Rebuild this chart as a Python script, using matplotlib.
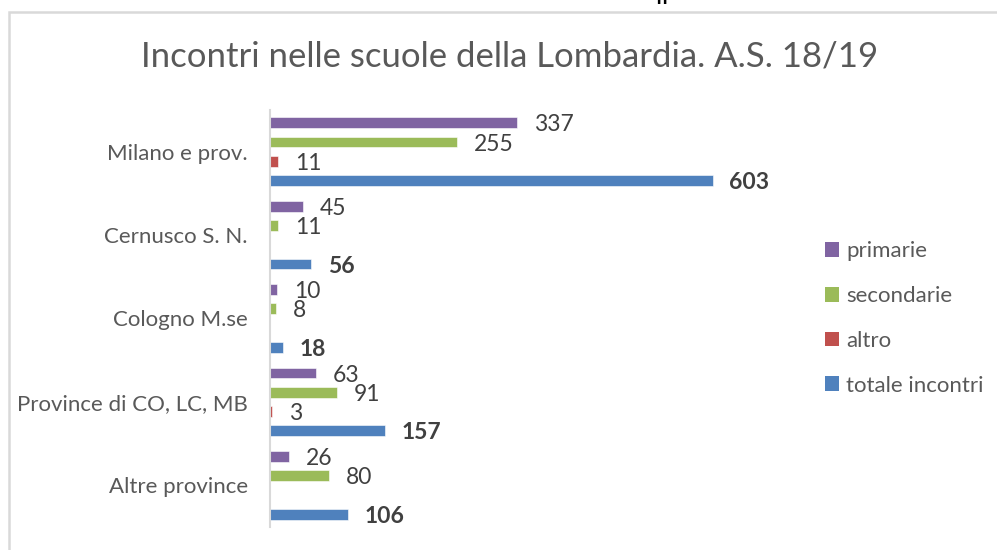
import numpy as np
import matplotlib
matplotlib.use("Agg")
import matplotlib.pyplot as plt
from matplotlib.patches import Rectangle, Patch

plt.rcParams["font.family"] = ["Lato", "DejaVu Sans"]

# data
categorie = ["Milano e prov.", "Cernusco S. N.", "Cologno M.se",
             "Province di CO, LC, MB", "Altre province"]
serie = ["primarie", "secondarie", "altro", "totale incontri"]
primarie = [337, 45, 10, 63, 26]
secondarie = [255, 11, 8, 91, 80]
altro = [11, np.nan, np.nan, 3, np.nan]
totale = [603, 56, 18, 157, 106]
colori = ["#8064A2", "#9BBB59", "#C0504D", "#4F81BD"]

W, H = 997, 550
fig = plt.figure(figsize=(W / 100, H / 100), dpi=100)

# cornice del grafico
fig.patches.append(Rectangle((8.5 / W, -0.1), 1.2, (H - 11.5) / H + 0.1,
                             transform=fig.transFigure, fill=False,
                             edgecolor="#d9d9d9", linewidth=1.8))
fig.text(663 / W, 1 + 2 / H, "ff", fontsize=14, fontweight="bold",
         ha="center", va="center", color="black")

ax = fig.add_axes([270 / W, 23 / H, (784 - 270) / W, (527 - 110) / H])

grigio = "#595959"
y = np.arange(len(categorie))
passo = 0.231
altezza = 0.13
valori = [primarie, secondarie, altro, totale]
for i, (vals, col, nome) in enumerate(zip(valori, colori, serie)):
    pos = y + (i - 1.5) * passo
    ax.barh(pos, vals, height=altezza, color=col, edgecolor="white",
            linewidth=0.4, label=nome)
    for p, v in zip(pos, vals):
        if np.isnan(v):
            continue
        ax.annotate(str(int(v)), (v, p), xytext=(12, -1.5),
                    textcoords="offset points", va="center", ha="left",
                    fontsize=16.5, color="#404040",
                    fontweight="bold" if nome == "totale incontri" else "normal")

ax.set_xlim(0, 700)
ax.set_ylim(len(categorie) - 0.5, -0.5)
ax.set_yticks(y)
ax.set_yticklabels(categorie, fontsize=16, color=grigio)
ax.tick_params(axis="y", length=0, pad=16)
ax.set_xticks([])
for s in ["top", "right", "bottom"]:
    ax.spines[s].set_visible(False)
ax.spines["left"].set_color("#d9d9d9")
ax.spines["left"].set_linewidth(1.5)

fig.text(510 / W, 1 - 57 / H, "Incontri nelle scuole della Lombardia. A.S. 18/19",
         ha="center", va="center", fontsize=25, color=grigio)

handles = [Patch(facecolor=c, label=n) for c, n in zip(colori, serie)]
fig.legend(handles=handles, loc="upper left", bbox_to_anchor=(805 / W, 1 - 221 / H),
           frameon=False, fontsize=16, handlelength=0.65, handleheight=0.65,
           handletextpad=0.3, labelspacing=1.12, labelcolor=grigio)

fig.savefig("out.png", dpi=100)
